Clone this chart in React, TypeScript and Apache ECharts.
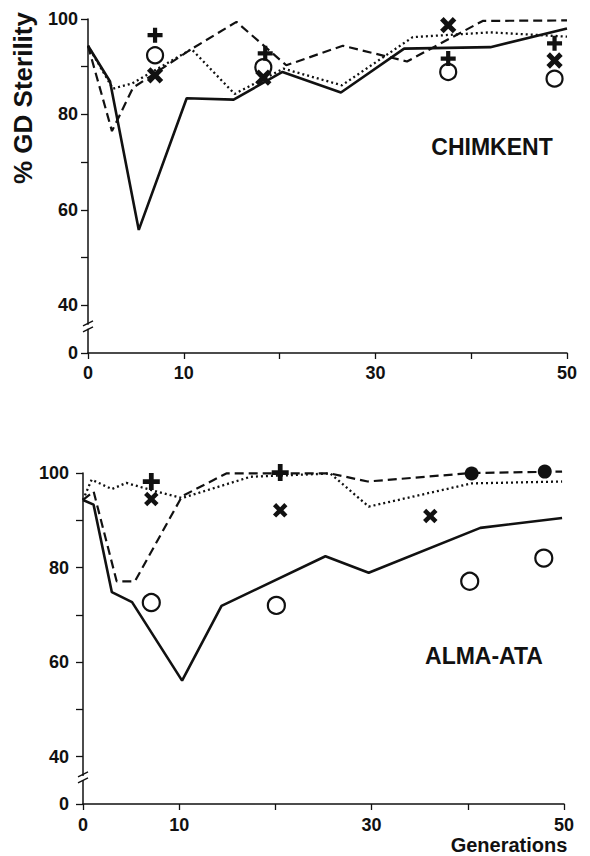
import React, { useEffect, useRef } from "react";
import * as echarts from "echarts";

// ---- axis ticks ----
const xLabelled = [0, 10, 30, 50];
const yLabelled = [40, 60, 80, 100];
const yBreakLabel = "0"; // shown at the bottom of the broken axis

// ---- CHIMKENT (top) ----
const chimSolid = [[0, 94.4], [2.3, 86.9], [5.3, 55.8], [10.3, 83.4], [15.2, 83.1], [20.3, 88.9], [26.4, 84.6], [33, 93.8], [42, 94.1], [50, 98]];
const chimDashed = [[0, 94.4], [2.5, 76.5], [4.7, 85.6], [10.8, 93.7], [15.5, 99.4], [20.7, 90.3], [26.6, 94.4], [33.3, 91.1], [41.2, 99.6], [50, 99.7]];
const chimDotted = [[0, 94.4], [2.6, 85.4], [4.6, 86.5], [10.8, 93.7], [15.3, 84.3], [20.4, 89.6], [26.5, 86.1], [33.9, 96.2], [42, 97.2], [50, 96.3]];
const chimPlus = [[7, 96.6], [18.5, 92.8], [37.6, 91.7], [48.7, 94.9]];
const chimCross = [[7, 88.2], [18.3, 87.7], [37.6, 98.7], [48.7, 91.3]];
const chimCircle = [[7, 92.4], [18.3, 89.9], [37.6, 88.9], [48.7, 87.5]];

// ---- ALMA-ATA (bottom) ----
const almaSolid = [[0, 94.3], [1.1, 93.3], [3, 74.8], [5.1, 72.7], [10.3, 56.1], [14.4, 71.9], [25.2, 82.4], [29.7, 78.9], [41.3, 88.4], [49.8, 90.5]];
const almaDashed = [[0, 94.3], [1.1, 96.1], [3.5, 77.1], [5.4, 77.1], [10.3, 95.1], [14.9, 99.9], [25.7, 99.9], [29.6, 98.2], [40.4, 100], [49.8, 100.3]];
const almaDotted = [[0, 94.3], [0.9, 98.6], [3, 96.6], [4.5, 97.9], [7.1, 96.4], [10.3, 94.7], [17.4, 99.2], [25.7, 99.9], [29.7, 92.9], [40.4, 97.8], [49.8, 98.2]];
const almaPlus = [[7.1, 98.2], [20.5, 100.1]];
const almaCross = [[7.1, 94.5], [20.5, 92.1], [36.1, 90.9]];
const almaCircle = [[7.1, 72.6], [20.1, 72], [40.2, 77.1], [47.9, 82]];
const almaFilled = [[40.4, 99.9], [48, 100.3]];

const INK = "#111";
const FONT = "'Liberation Sans', Arial, Helvetica, sans-serif";
const PLUS = "path://M5.4,0H9.6V5.4H15V9.6H9.6V15H5.4V9.6H0V5.4H5.4Z";

const GRIDS = [
  { left: 88, top: 19, width: 479, height: 334, yMargin: 10, xMargin: 11 },
  { left: 83, top: 473, width: 481, height: 331, yMargin: 14, xMargin: 12 },
];

function xAxis(i: number) {
  return {
    type: "value", gridIndex: i, min: 0, max: 50, interval: 10,
    axisLine: { show: true, lineStyle: { color: INK, width: 1.5 } },
    axisTick: { show: true, length: 6, lineStyle: { color: INK, width: 1.3 } },
    axisLabel: {
      color: INK, fontSize: 18, fontWeight: "bold", fontFamily: FONT, margin: GRIDS[i].xMargin,
      formatter: (v: number) => (xLabelled.includes(v) ? String(v) : ""),
    },
    splitLine: { show: false },
  };
}
function yAxis(i: number) {
  return {
    type: "value", gridIndex: i, min: 30, max: 100, interval: 10,
    axisLine: { show: true, lineStyle: { color: INK, width: 1.5 } },
    axisTick: { show: true, length: 7, lineStyle: { color: INK, width: 1.3 } },
    axisLabel: {
      color: INK, fontSize: 18, fontWeight: "bold", fontFamily: FONT, margin: GRIDS[i].yMargin,
      formatter: (v: number) => (v === 30 ? yBreakLabel : yLabelled.includes(v) ? String(v) : ""),
    },
    splitLine: { show: false },
  };
}

function lineSeries(i: number, data: number[][], kind: "solid" | "dashed" | "dotted") {
  const style: any = { color: INK, opacity: 1 };
  if (kind === "solid") { style.width = 2.6; style.type = "solid"; }
  if (kind === "dashed") { style.width = 2.2; style.type = [9, 5]; }
  if (kind === "dotted") { style.width = 2.3; style.type = [2, 3]; }
  return {
    type: "line", xAxisIndex: i, yAxisIndex: i, data, symbol: "none", showSymbol: false,
    lineStyle: style, z: 2, clip: false,
  };
}
function markerSeries(i: number, data: number[][], kind: "plus" | "cross" | "circle" | "filled", size: number) {
  const base: any = { type: "scatter", xAxisIndex: i, yAxisIndex: i, data, symbolSize: size, z: 5, clip: false };
  if (kind === "plus") { base.symbol = PLUS; base.itemStyle = { color: INK, opacity: 1 }; }
  if (kind === "cross") { base.symbol = PLUS; base.symbolRotate = 45; base.itemStyle = { color: INK, opacity: 1 }; }
  if (kind === "circle") { base.symbol = "circle"; base.itemStyle = { color: "rgba(0,0,0,0)", borderColor: INK, borderWidth: 2.2, opacity: 1 }; }
  if (kind === "filled") { base.symbol = "circle"; base.itemStyle = { color: INK, opacity: 1 }; }
  return base;
}

function breakMarks(i: number) {
  const g = GRIDS[i];
  const ax = g.left;
  const by = g.top + ((100 - 35.5) / 70) * g.height;
  const ls = { stroke: INK, lineWidth: 1.4 };
  return [
    { type: "rect", z: 100, shape: { x: ax - 3, y: by - 2, width: 6, height: 4 }, style: { fill: "#fff" } },
    { type: "line", z: 101, shape: { x1: ax - 5, y1: by - 1, x2: ax + 5, y2: by - 6 }, style: ls },
    { type: "line", z: 101, shape: { x1: ax - 5, y1: by + 5, x2: ax + 5, y2: by }, style: ls },
  ];
}

export default function App() {
  const ref = useRef<HTMLDivElement>(null);
  useEffect(() => {
    document.body.style.margin = "0";
    const chart = echarts.init(ref.current!, null, { renderer: "svg" });
    chart.setOption({
      animation: false,
      backgroundColor: "#fff",
      grid: GRIDS.map((g) => ({ left: g.left, top: g.top, width: g.width, height: g.height })),
      xAxis: [xAxis(0), xAxis(1)],
      yAxis: [yAxis(0), yAxis(1)],
      series: [
        lineSeries(0, chimSolid, "solid"),
        lineSeries(0, chimDashed, "dashed"),
        lineSeries(0, chimDotted, "dotted"),
        markerSeries(0, chimPlus, "plus", 15),
        markerSeries(0, chimCross, "cross", 18),
        markerSeries(0, chimCircle, "circle", 16),
        lineSeries(1, almaSolid, "solid"),
        lineSeries(1, almaDashed, "dashed"),
        lineSeries(1, almaDotted, "dotted"),
        markerSeries(1, almaPlus, "plus", 17),
        markerSeries(1, almaCross, "cross", 16),
        markerSeries(1, almaCircle, "circle", 17),
        markerSeries(1, almaFilled, "filled", 14),
      ],
      graphic: [
        {
          type: "text", x: 23, y: 98, rotation: Math.PI / 2,
          style: { text: "% GD Sterility", fill: INK, font: `bold 26px ${FONT}`, textAlign: "center", textVerticalAlign: "middle" },
        },
        {
          type: "text", x: 492, y: 147,
          style: { text: "CHIMKENT", fill: INK, font: `bold 23px ${FONT}`, textAlign: "center", textVerticalAlign: "middle" },
        },
        {
          type: "text", x: 484, y: 656,
          style: { text: "ALMA-ATA", fill: INK, font: `bold 23px ${FONT}`, textAlign: "center", textVerticalAlign: "middle" },
        },
        {
          type: "text", x: 509, y: 845,
          style: { text: "Generations", fill: INK, font: `bold 20px ${FONT}`, textAlign: "center", textVerticalAlign: "middle" },
        },
        ...breakMarks(0),
        ...breakMarks(1),
      ],
    });
    return () => chart.dispose();
  }, []);
  return <div ref={ref} style={{ width: 590, height: 856 }} />;
}
